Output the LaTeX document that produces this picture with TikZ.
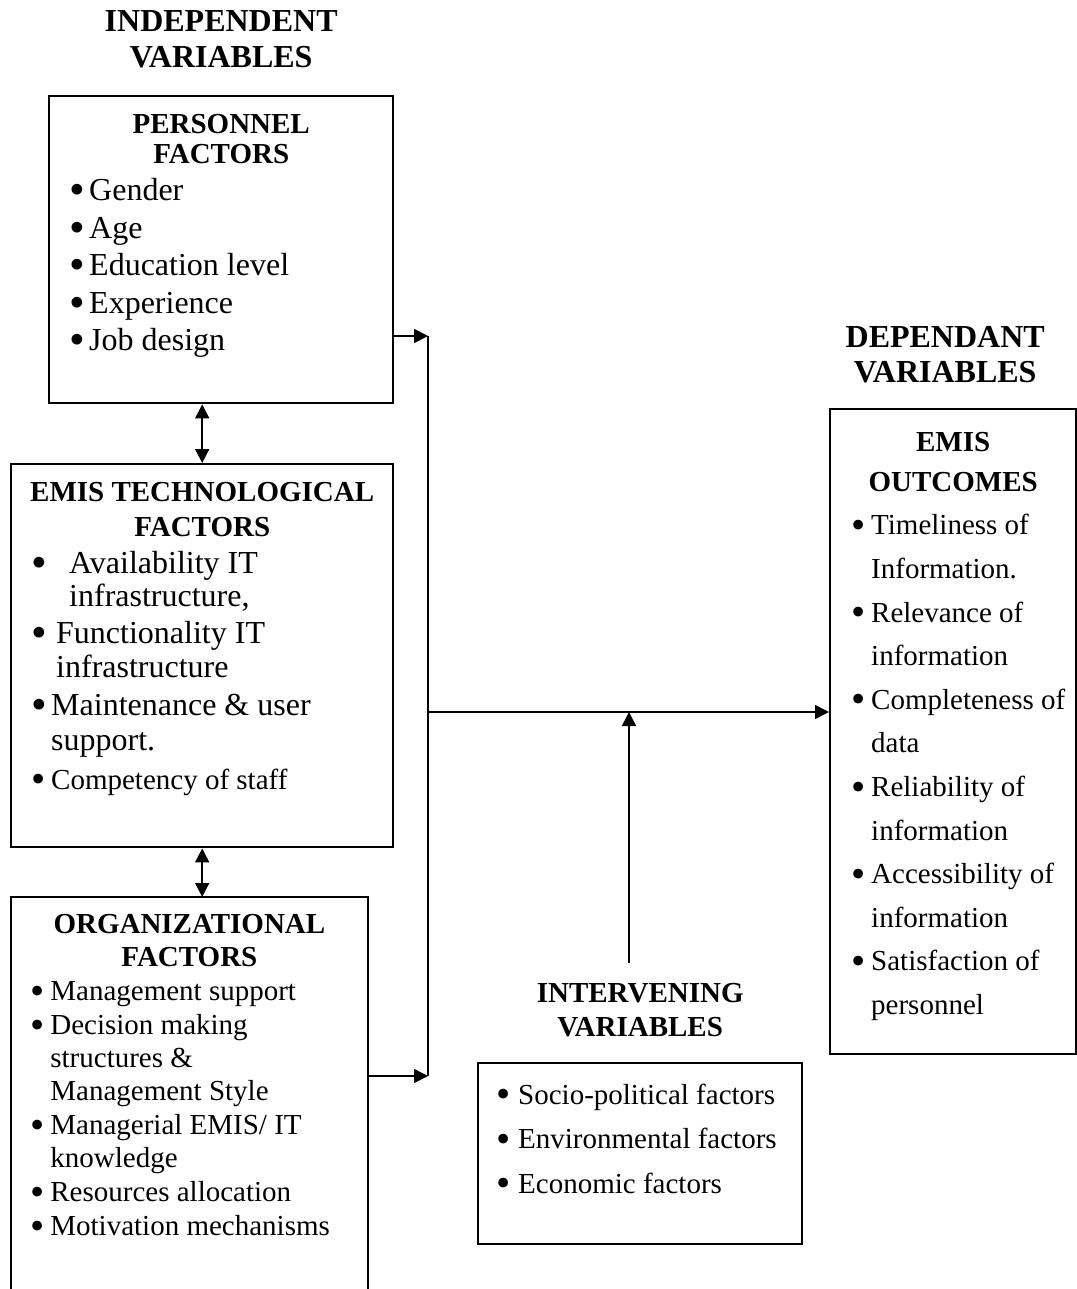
\documentclass[tikz,border=0pt]{standalone}
\usepackage{fontspec}
\setmainfont{Liberation Serif}
\usetikzlibrary{positioning,calc,arrows.meta}

\newcommand{\ttlfont}{\fontsize{14.5}{15}\selectfont\bfseries}
\newcommand{\bigbul}{\hspace*{-0.085em}\raisebox{-0.125em}{\scalebox{1.4}{\textbullet}}}
\newcommand{\itm}[2][8pt]{\par\hangindent=#1\hangafter=1\noindent\makebox[#1][l]{\bigbul}#2}

\tikzset{
  factbox/.style={draw, line width=1.2pt, inner sep=0pt, anchor=north west},
  openbox/.style={inner sep=0pt, anchor=north west},
  varhead/.style={align=center, inner sep=0pt, font=\fontsize{16}{18}\selectfont\bfseries},
  arr/.style={line width=0.8pt, -{Triangle[length=7pt,width=7pt]}},
  dbl/.style={line width=0.8pt, {Triangle[length=7pt,width=7pt]}-{Triangle[length=7pt,width=7pt]}}
}

\begin{document}
\begin{tikzpicture}[x=0.5pt,y=0.5pt]
\useasboundingbox (0,0) rectangle (1076,-1289);

% independent variables
\node[factbox] (pers) at (48,-95) {\parbox[c][153.5pt][t]{172pt}{%
  \centering\ttlfont\rule{0pt}{18.5pt}PERSONNEL\\FACTORS\par
  \raggedright\mdseries\fontsize{16}{18.75}\selectfont\leftskip=11.75pt
  \itm[8.25pt]{Gender}\itm[8.25pt]{Age}\itm[8.25pt]{Education level}\itm[8.25pt]{Experience}\itm[8.25pt]{Job design}\par}};

\node[factbox] (tech) at (10,-463) {\parbox[c][191.5pt][t]{191pt}{%
  \centering\fontsize{14.5}{17.5}\selectfont\bfseries\rule{0pt}{18.5pt}EMIS TECHNOLOGICAL\\FACTORS\par
  \raggedright\mdseries\fontsize{16}{16.75}\selectfont\leftskip=11.5pt\parskip=1.75pt
  \itm[17.5pt]{Availability IT\newline infrastructure,}
  \itm[11pt]{Functionality IT\newline infrastructure}
  \itm[8.5pt]{Maintenance \& user\newline support.}
  {\fontsize{14.5}{17.5}\selectfont\itm[8.5pt]{Competency of staff}\par}}};

\node[openbox] (org) at (11,-897) {\parbox[c][196pt][t]{178pt}{%
  \centering\fontsize{14.5}{16.5}\selectfont\bfseries\rule{0pt}{18pt}ORGANIZATIONAL\\FACTORS\par
  \raggedright\mdseries\fontsize{14.5}{16.5}\selectfont\leftskip=11pt\parskip=0.5pt
  \itm[8.5pt]{Management support}
  \itm[8.5pt]{Decision making\newline structures \&\newline Management Style}
  \itm[8.5pt]{Managerial EMIS/ IT\newline knowledge}
  \itm[8.5pt]{Resources allocation}
  \itm[8.5pt]{Motivation mechanisms}\par}};
\draw[line width=1.2pt] (org.south west) |- (org.north east) -- (org.south east);

\node[varhead, above=13.5pt of pers] (indep) {INDEPENDENT\\VARIABLES};

% dependant variables
\node[factbox] (outc) at (829,-408) {\parbox[c][322.5pt][t]{123pt}{%
  \centering\fontsize{14.5}{20}\selectfont\bfseries\rule{0pt}{21pt}EMIS\\OUTCOMES\par
  \raggedright\mdseries\fontsize{14.5}{21.8}\selectfont\leftskip=12pt
  \itm[8.5pt]{Timeliness of\newline Information.}
  \itm[8.5pt]{Relevance of\newline information}
  \itm[8.5pt]{Completeness of\newline data}
  \itm[8.5pt]{Reliability of\newline information}
  \itm[8.5pt]{Accessibility of\newline information}
  \itm[8.5pt]{Satisfaction of\newline personnel}\par}};
\node[varhead, font=\fontsize{16}{17.5}\selectfont\bfseries, above=12.5pt of outc, xshift=-4pt] (depv) {DEPENDANT\\VARIABLES};

% intervening variables
\node[factbox] (intv) at (477,-1062) {\parbox[c][90.5pt][t]{162pt}{%
  \raggedright\fontsize{14.5}{22.25}\selectfont\leftskip=10.5pt
  \itm[9.5pt]{\rule{0pt}{20.5pt}Socio-political factors}
  \itm[9.5pt]{Environmental factors}
  \itm[9.5pt]{Economic factors}\par}};
\node[varhead, font=\fontsize{14.5}{17}\selectfont\bfseries, above=12.5pt of intv] (ivar) {INTERVENING\\VARIABLES};

% connectors
\coordinate (jtop) at (428,-336);
\coordinate (jbot) at (428,-1076);
\coordinate (jmid) at (428,-712);
\coordinate (ifoot) at (629,-963);
\draw[arr] (pers.east |- jtop) -- (jtop);
\draw[arr] (org.east |- jbot) -- (jbot);
\draw[line width=0.8pt] (jtop) -- (jbot);
\draw[arr] (jmid) -- (outc.west |- jmid);
\draw[arr] (ifoot) -- (ifoot |- jmid);
\draw[dbl] (tech.north) -- (tech.north |- pers.south);
\draw[dbl] (tech.south) -- (tech.south |- org.north);
\end{tikzpicture}
\end{document}
